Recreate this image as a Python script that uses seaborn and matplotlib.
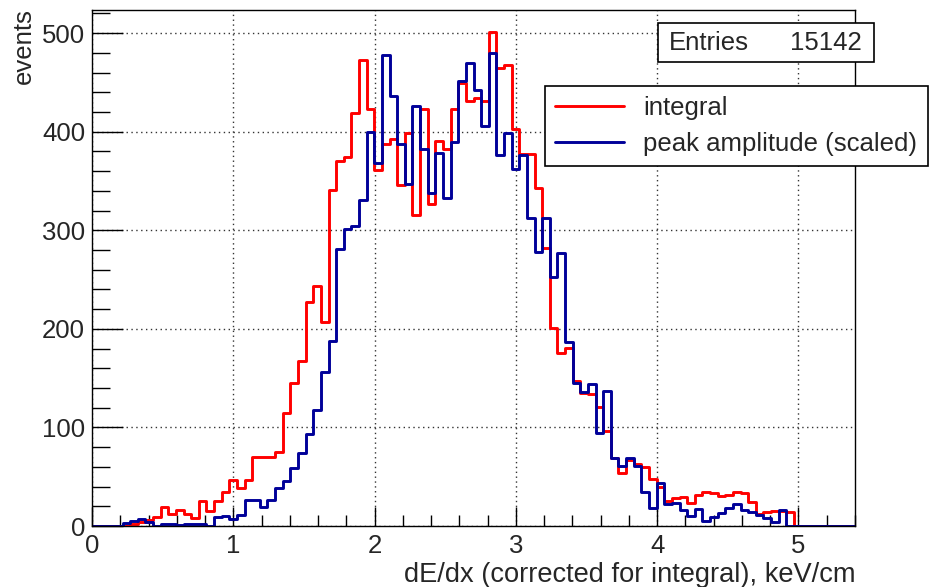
import numpy as np
import pandas as pd
import matplotlib
matplotlib.use("Agg")
import matplotlib.pyplot as plt
import seaborn as sns
from matplotlib.lines import Line2D
from matplotlib.patches import Rectangle
from matplotlib.ticker import MultipleLocator

# ---------------- data (100 bins, 0 .. 5.4 keV/cm) ----------------
x_min, x_max, n_bins = 0.0, 5.4, 100

integral = [0, 0, 0, 0, 0, 2, 4, 6, 9, 19,
            12, 16, 12, 8, 25, 15, 25, 34, 47, 39,
            47, 70, 70, 70, 75, 115, 145, 167, 227, 243,
            207, 341, 370, 374, 419, 473, 423, 361, 388, 393,
            346, 399, 316, 423, 327, 391, 382, 423, 449, 431,
            434, 431, 501, 465, 468, 403, 377, 377, 343, 282,
            201, 176, 181, 147, 135, 134, 121, 96, 69, 54,
            67, 63, 60, 48, 40, 25, 28, 29, 23, 31,
            34, 33, 30, 31, 34, 33, 24, 12, 14, 15,
            15, 14, 0, 0, 0, 0, 0, 0, 0, 0]

peak_scaled = [0, 0, 0, 0, 3, 5, 7, 4, 0, 2,
               2, 1, 2, 2, 2, 0, 9, 10, 7, 11,
               26, 26, 19, 26, 39, 46, 59, 74, 93, 118,
               156, 188, 281, 301, 304, 331, 400, 368, 478, 436,
               388, 347, 426, 382, 338, 378, 333, 390, 451, 470,
               442, 406, 480, 376, 399, 362, 376, 312, 278, 312,
               253, 277, 187, 145, 136, 144, 94, 137, 69, 61,
               69, 61, 34, 18, 44, 22, 23, 16, 10, 17,
               5, 9, 13, 18, 22, 16, 14, 11, 8, 4,
               16, 0, 0, 0, 0, 0, 0, 0, 0, 0]

series_names = ["integral", "peak amplitude (scaled)"]
series_colors = ["#ff0000", "#000099"]
entries_label = "Entries"
entries_value = "15142"
x_title = "dE/dx (corrected for integral), keV/cm"
y_title = "events"

edges = np.linspace(x_min, x_max, n_bins + 1)
centers = 0.5 * (edges[:-1] + edges[1:])
df = pd.DataFrame({
    "x": np.concatenate([centers, centers]),
    "w": np.concatenate([integral, peak_scaled]).astype(float),
    "series": [series_names[0]] * n_bins + [series_names[1]] * n_bins,
})

# ---------------- figure ----------------
sns.set_theme(style="white")
plt.rcParams['font.family'] = ['Liberation Sans', 'DejaVu Sans']
FS = 18.5

W, H = 930, 587
fig = plt.figure(figsize=(W / 100, H / 100), dpi=100)
L, R, T, B = 92, 855, 9.5, 526
ax = fig.add_axes([L / W, 1 - B / H, (R - L) / W, (B - T) / H])

sns.histplot(data=df, x="x", weights="w", hue="series",
             hue_order=[series_names[1], series_names[0]],
             bins=n_bins, binrange=(x_min, x_max), element="step", fill=False,
             palette=dict(zip(series_names, series_colors)),
             linewidth=2.1, legend=False, ax=ax)

ax.set_xlim(x_min, x_max)
ax.set_ylim(0, 524)
ax.set_xlabel("")
ax.set_ylabel("")

ax.xaxis.set_major_locator(MultipleLocator(1))
ax.xaxis.set_minor_locator(MultipleLocator(0.2))
ax.yaxis.set_major_locator(MultipleLocator(100))
ax.yaxis.set_minor_locator(MultipleLocator(20))
ax.tick_params(axis="x", which="major", direction="in", length=14, width=1,
               color="black", labelsize=FS, pad=6, bottom=True, top=False)
ax.tick_params(axis="x", which="minor", direction="in", length=8, width=1,
               color="black", bottom=True, top=False)
ax.tick_params(axis="y", which="major", direction="in", length=22, width=1,
               color="black", labelsize=FS, pad=5, left=True, right=False)
ax.tick_params(axis="y", which="minor", direction="in", length=13, width=1,
               color="black", left=True, right=False)
for s in ax.spines.values():
    s.set_color("black")
    s.set_linewidth(1.0)
    s.set_visible(True)

ax.grid(True, which="major", linestyle=(0, (1, 2.5)), color="#333333", linewidth=1.0)
ax.set_axisbelow(True)

# axis titles (ROOT style: aligned at the axis ends)
fig.text(R / W, 1 - 582 / H, x_title, ha="right", va="baseline", fontsize=19.6)
fig.text(24 / W, 1 - 8 / H, y_title, ha="center", va="top", rotation=90, fontsize=FS)

# stats box
fig.add_artist(Rectangle((658 / W, 1 - 61.7 / H), 216 / W, 39 / H,
                         transform=fig.transFigure, facecolor="white",
                         edgecolor="black", linewidth=1.2, zorder=5))
fig.text(669 / W, 1 - 42.5 / H, entries_label, ha="left", va="center", fontsize=FS, zorder=6)
fig.text(862 / W, 1 - 42.5 / H, entries_value, ha="right", va="center", fontsize=FS, zorder=6)

# legend
handles = [Line2D([], [], color=c, linewidth=2.1) for c in series_colors]
leg = ax.legend(handles, series_names, loc="upper left",
                bbox_to_anchor=(545 / W, 1 - 166 / H, 383 / W, 80 / H),
                bbox_transform=fig.transFigure, mode="expand",
                fontsize=FS, frameon=True, fancybox=False, framealpha=1,
                edgecolor="black", borderaxespad=0, borderpad=0.38,
                handlelength=2.7, handletextpad=0.75, labelspacing=0.47)
leg.get_frame().set_linewidth(1.2)
leg.set_zorder(6)

fig.savefig("out.png", dpi=100)
